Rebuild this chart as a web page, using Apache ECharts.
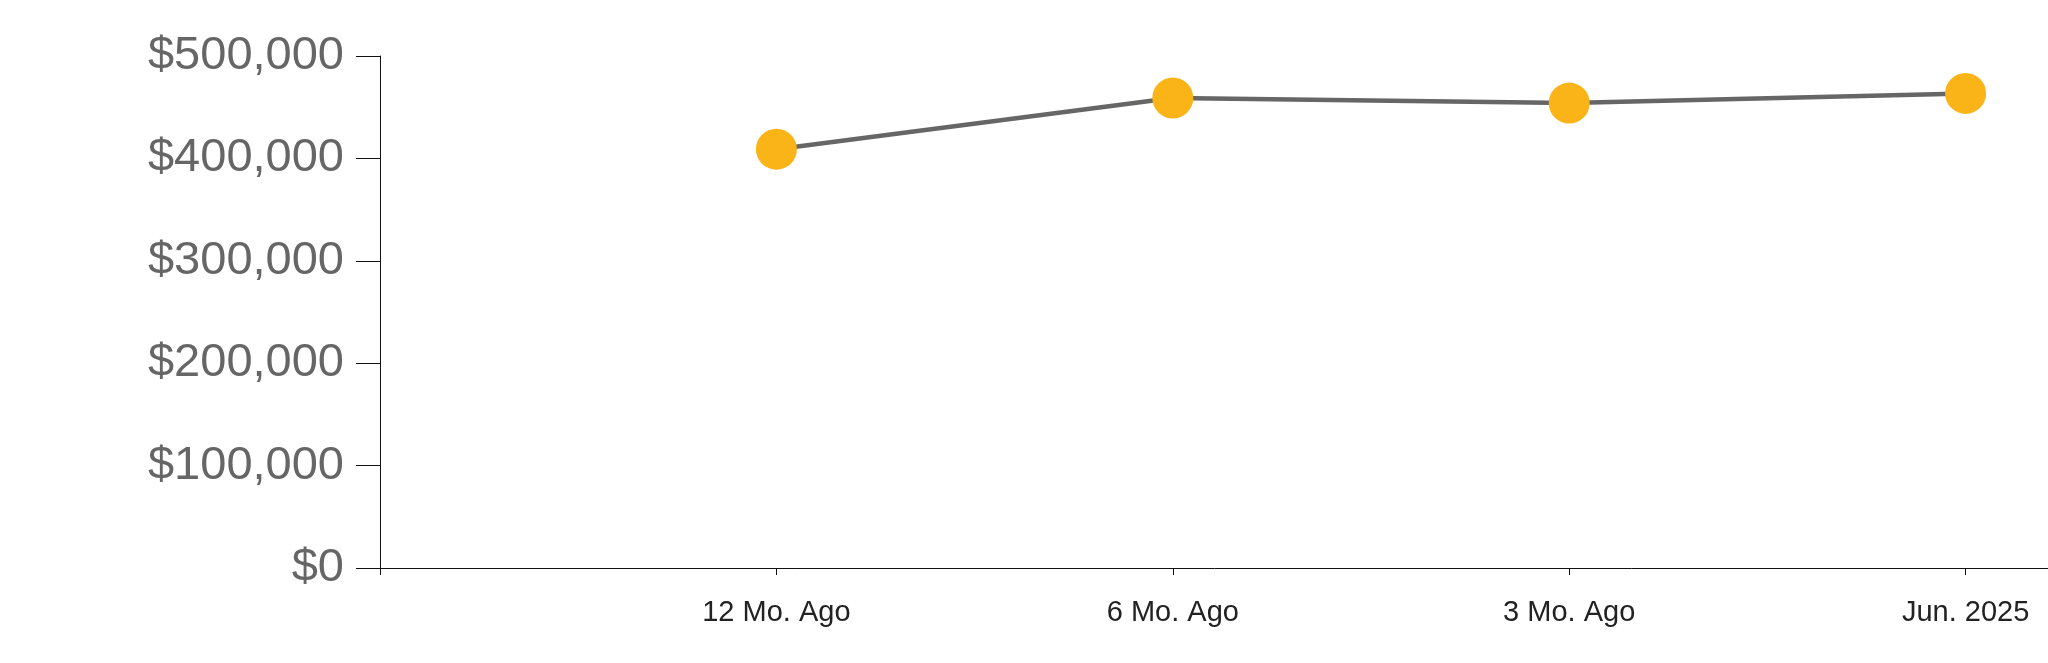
<!DOCTYPE html>
<html>
<head>
<meta charset="utf-8">
<script src="https://cdn.jsdelivr.net/npm/echarts@6/dist/echarts.min.js"></script>
<style>
html,body{margin:0;padding:0;background:#fff;}
#chart{width:2048px;height:663px;}
</style>
</head>
<body>
<div id="chart"></div>
<script>
const categories = ['', '12 Mo. Ago', '6 Mo. Ago', '3 Mo. Ago', 'Jun. 2025', ''];
const values = [null, 409000, 459000, 454000, 463500, null];
const yMin = 0, yMax = 500000, yStep = 100000;

function money(v) {
  return '$' + String(Math.round(v)).replace(/\B(?=(\d{3})+(?!\d))/g, ',');
}

const chart = echarts.init(document.getElementById('chart'), null, {renderer: 'canvas'});
chart.setOption({
  animation: false,
  backgroundColor: '#ffffff',
  grid: {left: 380, top: 56, height: 512, width: 1982, containLabel: false, outerBoundsMode: 'none'},
  xAxis: {
    type: 'category',
    data: categories,
    boundaryGap: false,
    axisLine: {show: true, lineStyle: {color: '#111', width: 1}},
    axisTick: {show: true, length: 7, alignWithLabel: true, lineStyle: {color: '#111', width: 1}},
    axisLabel: {show: true, interval: 0, margin: 30, fontSize: 29, color: '#222', fontFamily: 'Liberation Sans, Arial, sans-serif'},
    splitLine: {show: false}
  },
  yAxis: {
    type: 'value',
    min: yMin, max: yMax, interval: yStep,
    axisLine: {show: true, lineStyle: {color: '#111', width: 1}},
    axisTick: {show: true, length: 24, lineStyle: {color: '#111', width: 1}},
    axisLabel: {show: true, margin: 36, fontSize: 47, color: '#666', padding: [0, 0, 7, 0], fontFamily: 'Liberation Sans, Arial, sans-serif', formatter: money},
    splitLine: {show: false}
  },
  series: [{
    type: 'line',
    data: values,
    connectNulls: false,
    symbol: 'circle',
    symbolSize: 41,
    showSymbol: true,
    lineStyle: {color: '#666', width: 4.5},
    itemStyle: {color: '#FBB417', borderWidth: 0}
  }]
});
</script>
</body>
</html>
